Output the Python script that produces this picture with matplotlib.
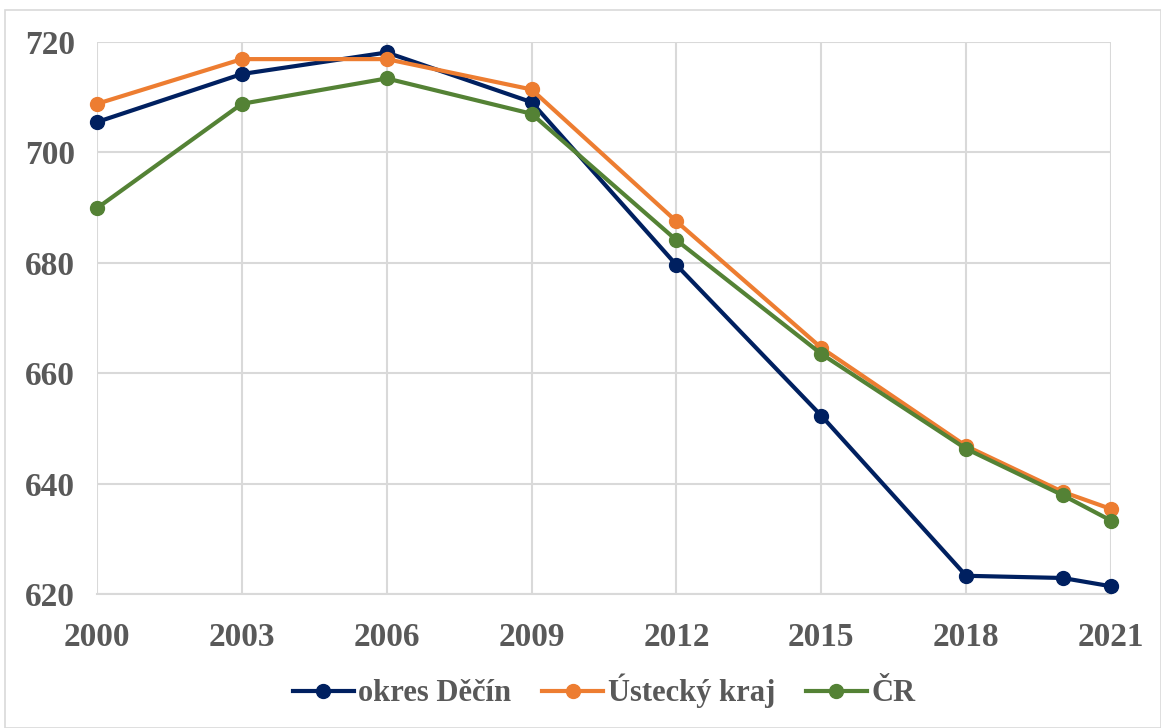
import matplotlib.pyplot as plt
from matplotlib.patches import Rectangle

roky = [2000, 2003, 2006, 2009, 2012, 2015, 2018, 2020, 2021]
decin = [705.5, 714.2, 718.1, 709.1, 679.6, 652.3, 623.3, 622.9, 621.4]
ustecky = [708.8, 716.9, 716.9, 711.4, 687.5, 664.6, 646.8, 638.5, 635.4]
cr = [689.9, 708.8, 713.4, 707.0, 684.1, 663.5, 646.3, 637.9, 633.3]
popisky_x = [2000, 2003, 2006, 2009, 2012, 2015, 2018, 2021]
popisky_y = [620, 640, 660, 680, 700, 720]

plt.rcParams['font.family'] = ['Liberation Serif', 'DejaVu Serif']
seda = '#595959'

fig = plt.figure(figsize=(11.61, 7.28), dpi=100)
ax = fig.add_axes([97 / 1161, 1 - 594 / 728, (1111 - 97) / 1161, (594 - 42) / 728])

fig.patches.append(Rectangle((5 / 1161, 0), 1 - 5 / 1161, 1 - 10 / 728, transform=fig.transFigure,
                             fill=False, edgecolor='#d9d9d9', linewidth=1.2))

ax.plot(roky, decin, color='#002060', lw=3, marker='o', ms=10, label='okres Děčín', zorder=3, clip_on=False)
ax.plot(roky, ustecky, color='#ED7D31', lw=3, marker='o', ms=10, label='Ústecký kraj', zorder=3, clip_on=False)
ax.plot(roky, cr, color='#548235', lw=3, marker='o', ms=10, label='ČR', zorder=3, clip_on=False)

ax.set_xlim(2000, 2021)
ax.set_ylim(620, 720)
ax.set_xticks(popisky_x)
ax.set_yticks(popisky_y)
ax.grid(True, color='#d9d9d9', lw=1.5)
ax.set_axisbelow(True)
for s in ['top', 'right', 'left']:
    ax.spines[s].set_visible(False)
ax.spines['bottom'].set_color('#d9d9d9')
ax.spines['bottom'].set_linewidth(1.5)
ax.tick_params(length=0, labelsize=24, labelcolor=seda)
ax.tick_params(axis='y', pad=16)
ax.tick_params(axis='x', pad=20)
for t in ax.get_xticklabels() + ax.get_yticklabels():
    t.set_fontweight('bold')

leg = ax.legend(loc='upper center', bbox_to_anchor=(0.5, -0.095), ncol=3, frameon=False,
                prop={'size': 22, 'weight': 'bold'}, handlelength=2.0, columnspacing=1.0,
                handletextpad=0.15)
for t in leg.get_texts():
    t.set_color(seda)

fig.savefig('out.png', dpi=100)
